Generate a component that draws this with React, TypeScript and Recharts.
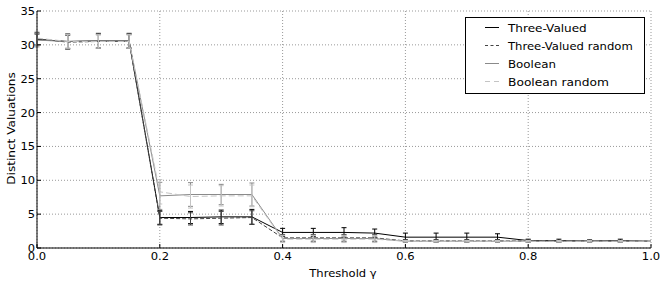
import React, { useLayoutEffect, useRef, useState } from 'react';
import { LineChart, Line, XAxis, YAxis, CartesianGrid, ErrorBar } from 'recharts';

const thresholds = [0, 0.05, 0.1, 0.15, 0.2, 0.25, 0.3, 0.35, 0.4, 0.45, 0.5, 0.55, 0.6, 0.65, 0.7, 0.75, 0.8, 0.85, 0.9, 0.95, 1.0];
const threeValued = [30.8, 30.5, 30.6, 30.6, 4.5, 4.5, 4.6, 4.6, 2.3, 2.3, 2.3, 2.2, 1.6, 1.6, 1.6, 1.6, 1.1, 1.1, 1.05, 1.1, 1.0];
const threeValuedErr = [0.8, 1.1, 1.1, 1.1, 1.0, 0.9, 1.0, 1.1, 0.6, 0.6, 0.7, 0.6, 0.6, 0.6, 0.6, 0.5, 0.2, 0.2, 0.15, 0.2, 0];
const threeValuedRandom = [30.9, 30.4, 30.5, 30.5, 4.4, 4.3, 4.4, 4.5, 1.5, 1.5, 1.5, 1.5, 1.05, 1.05, 1.05, 1.05, 1.05, 1.0, 1.0, 1.0, 1.0];
const threeValuedRandomErr = [0.9, 1.0, 1.0, 1.0, 1.0, 0.9, 1.0, 1.0, 0.5, 0.5, 0.5, 0.5, 0.2, 0.2, 0.2, 0.2, 0.15, 0.1, 0.1, 0.1, 0];
const boolean = [30.7, 30.5, 30.6, 30.6, 7.7, 7.9, 7.9, 7.9, 1.4, 1.4, 1.4, 1.4, 1.0, 1.0, 1.0, 1.0, 1.0, 1.0, 1.0, 1.0, 1.0];
const booleanErr = [1.0, 1.0, 1.0, 1.0, 2.0, 1.75, 1.5, 1.7, 0.5, 0.5, 0.5, 0.5, 0.1, 0.1, 0.1, 0.1, 0.1, 0.1, 0.1, 0.1, 0];
const booleanRandom = [31.0, 30.5, 30.5, 30.5, 8.3, 7.6, 7.7, 7.7, 1.3, 1.3, 1.3, 1.3, 1.0, 1.0, 1.0, 1.0, 1.0, 1.0, 1.0, 1.0, 1.0];
const booleanRandomErr = [1.0, 1.0, 1.0, 1.0, 1.8, 1.7, 1.5, 1.6, 0.5, 0.5, 0.5, 0.5, 0.1, 0.1, 0.1, 0.1, 0.1, 0.1, 0.1, 0.1, 0];
const xTicks = [0, 0.2, 0.4, 0.6, 0.8, 1.0];
const yTicks = [0, 5, 10, 15, 20, 25, 30, 35];

const seriesNames = ['Three-Valued', 'Three-Valued random', 'Boolean', 'Boolean random'];
const xLabel = 'Threshold γ';
const yLabel = 'Distinct Valuations';

// styles
const colors = ['#000000', '#444444', '#8a8a8a', '#c4c4c4'];
const dashes = [undefined, '4 2', undefined, '6 3'];
const legendDashes = [undefined, '3 2.5', undefined, '5 4'];
const legendTextWidths = [80, 126, 48, 101];

const data = thresholds.map((t, i) => ({
  t,
  tv: threeValued[i], tvErr: threeValuedErr[i],
  tvr: threeValuedRandom[i], tvrErr: threeValuedRandomErr[i],
  b: boolean[i], bErr: booleanErr[i],
  br: booleanRandom[i], brErr: booleanRandomErr[i],
}));

const keys = ['tv', 'tvr', 'b', 'br'];
const font = '"DejaVu Sans", sans-serif';
const fs = 11;

const numWidth = (s: string) => s.split('').reduce((w, c) => w + (c === '.' ? 3.8 : 7.3), 0);

// Text stretched horizontally to a target width (measured at runtime)
const FitText = ({ x, y, width, anchor = 'start', rotate = 0, children }: any) => {
  const ref = useRef<SVGTextElement>(null);
  const [sx, setSx] = useState(1);
  useLayoutEffect(() => {
    if (ref.current) {
      const w = ref.current.getBBox().width;
      if (w > 0) setSx(width / w);
    }
  }, [width, children]);
  return (
    <g transform={`translate(${x},${y}) rotate(${rotate}) scale(${sx},1)`}>
      <text ref={ref} x={0} y={0} textAnchor={anchor} fontFamily={font} fontSize={fs} fill="#000">{children}</text>
    </g>
  );
};

const XTick = (props: any) => {
  const s = Number(props.payload.value).toFixed(1);
  return <FitText x={props.x} y={260} width={numWidth(s)} anchor="middle">{s}</FitText>;
};

const YTick = (props: any) => {
  const s = String(props.payload.value);
  return <FitText x={35} y={props.y + 4} width={numWidth(s)} anchor="end">{s}</FitText>;
};

const XTitle = () => <FitText x={343} y={277} width={69} anchor="middle">{xLabel}</FitText>;

const YTitle = () => <FitText x={15} y={128.5} width={113} anchor="middle" rotate={-90}>{yLabel}</FitText>;

const LegendBox = () => (
  <svg width={180} height={77} style={{ position: 'absolute', left: 465, top: 17 }}>
    <rect x={0.5} y={0.5} width={179} height={76} fill="#fff" stroke="#000" strokeWidth={1} />
    {seriesNames.map((n, i) => {
      const base = 15 + i * 18;
      return (
        <g key={n}>
          <line x1={20} y1={base - 4.5} x2={34} y2={base - 4.5} stroke={colors[i]} strokeWidth={1} strokeDasharray={legendDashes[i]} />
          <FitText x={43} y={base} width={legendTextWidths[i]}>{n}</FitText>
        </g>
      );
    })}
  </svg>
);

const noLabel = () => '';

export default function App() {
  return (
    <div style={{ position: 'absolute', left: 0, top: 0, width: 664, height: 284, background: '#fff' }}>
      <LineChart width={664} height={284} data={data} margin={{ top: 11, right: 13, bottom: 8, left: 4 }}>
        <CartesianGrid stroke="#999" strokeDasharray="1 2" />
        <XAxis
          dataKey="t" type="number" domain={[0, 1]} ticks={xTicks}
          tick={<XTick />}
          axisLine={{ stroke: '#000' }} tickLine={{ stroke: '#000' }} tickSize={-4} tickMargin={5}
          height={28}
          label={<XTitle />}
        />
        <XAxis xAxisId="top" orientation="top" dataKey="t" type="number" domain={[0, 1]} ticks={xTicks} tickFormatter={noLabel} axisLine={{ stroke: '#000' }} tickLine={{ stroke: '#000' }} tickSize={-4} height={0} />
        <YAxis
          type="number" domain={[0, 35]} ticks={yTicks}
          tick={<YTick />}
          axisLine={{ stroke: '#000' }} tickLine={{ stroke: '#000' }} tickSize={-4} tickMargin={6}
          width={33}
          label={<YTitle />}
        />
        <YAxis yAxisId="right" orientation="right" domain={[0, 35]} ticks={yTicks} tickFormatter={noLabel} axisLine={{ stroke: '#000' }} tickLine={{ stroke: '#000' }} tickSize={-4} width={0} />
        {keys.map((k, i) => (
          <Line key={k} dataKey={k} name={seriesNames[i]} stroke={colors[i]} strokeWidth={1} strokeDasharray={dashes[i]} dot={false} isAnimationActive={false}>
            <ErrorBar dataKey={k + 'Err'} width={2.5} stroke={colors[i]} strokeWidth={1} direction="y" />
          </Line>
        ))}
      </LineChart>
      <LegendBox />
    </div>
  );
}
